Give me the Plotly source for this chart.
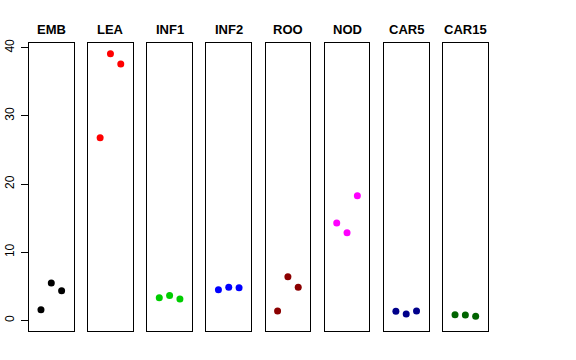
import plotly.graph_objects as go

groups = ["EMB", "LEA", "INF1", "INF2", "ROO", "NOD", "CAR5", "CAR15"]
colors = ["#000000", "#FF0000", "#00CD00", "#0000FF", "#8B0000", "#FF00FF", "#00008B", "#006400"]
emb = [1.55, 5.47, 4.34]
lea = [26.8, 39.1, 37.6]
inf1 = [3.31, 3.66, 3.12]
inf2 = [4.49, 4.84, 4.78]
roo = [1.36, 6.39, 4.84]
nod = [14.27, 12.85, 18.27]
car5 = [1.32, 0.92, 1.36]
car15 = [0.82, 0.78, 0.59]
values = [emb, lea, inf1, inf2, roo, nod, car5, car15]
reps = [1, 2, 3]
y_ticks = [0, 10, 20, 30, 40]

W, H = 576, 360
fig = go.Figure()
layout = {}
left0, step, pw = 29.0, 59.15, 44.6
top, bottom = 43.0, 331.0
ydom = [1 - bottom / H, 1 - top / H]
ymax = 39.13
yr = [-0.04 * ymax, ymax * 1.04]

for i, (g, c, v) in enumerate(zip(groups, colors, values)):
    n = "" if i == 0 else str(i + 1)
    xa, ya = "x" + n, "y" + n
    fig.add_trace(go.Scatter(x=reps, y=v, mode="markers", xaxis=xa, yaxis=ya,
                             marker=dict(color=c, size=7), showlegend=False,
                             hoverinfo="skip", cliponaxis=False))
    l = left0 + i * step
    layout["xaxis" + n] = dict(domain=[l / W, (l + pw) / W], range=[-0.16, 4.16],
                               showline=True, mirror=True, linecolor="#000000", linewidth=1,
                               showgrid=False, zeroline=False, showticklabels=False,
                               ticks="", anchor=ya, fixedrange=True, automargin=False)
    ydef = dict(domain=ydom, range=yr, showline=True, mirror=True, linecolor="#000000",
                linewidth=1, showgrid=False, zeroline=False, anchor=xa, fixedrange=True,
                automargin=False)
    if i == 0:
        ydef.update(tickvals=y_ticks, ticktext=[str(t) for t in y_ticks], ticks="outside",
                    ticklen=7, tickcolor="#000000", tickangle=-90,
                    tickfont=dict(family="Liberation Sans, Arial", size=12, color="#000000"),
                    ticklabelstandoff=2)
    else:
        ydef.update(showticklabels=False, ticks="")
    layout["yaxis" + n] = ydef
    fig.add_annotation(text="<b>" + g + "</b>", x=(l + pw / 2) / W, y=1 - 29 / H,
                       xref="paper", yref="paper", showarrow=False,
                       xanchor="center", yanchor="middle",
                       font=dict(family="Liberation Sans, Arial", size=13, color="#000000"))

fig.update_layout(width=W, height=H, margin=dict(l=0, r=0, t=0, b=0, autoexpand=False),
                  paper_bgcolor="white", plot_bgcolor="white", **layout)
fig.write_html("out.html", config={"displayModeBar": False},
               post_script="document.body.style.margin='0';document.body.style.overflow='hidden';")
